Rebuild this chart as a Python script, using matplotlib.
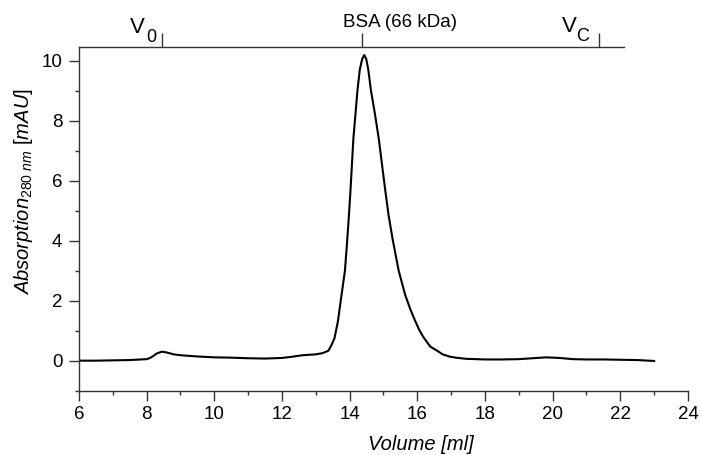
import matplotlib.pyplot as plt
from matplotlib.ticker import MultipleLocator

plt.rcParams['font.family'] = ['Liberation Sans', 'DejaVu Sans']
plt.rcParams['mathtext.fontset'] = 'custom'
plt.rcParams['mathtext.rm'] = 'Liberation Sans'
plt.rcParams['mathtext.it'] = 'Liberation Sans:italic'

# chromatogram
volume = [6.0, 6.5, 7.0, 7.5, 8.0, 8.1, 8.2, 8.3, 8.45, 8.6, 8.8, 9.0, 9.5, 10.0,
          10.5, 11.0, 11.5, 12.0, 12.3, 12.6, 13.0, 13.2, 13.37, 13.45, 13.55,
          13.65, 13.76, 13.86, 13.92, 13.97, 14.02, 14.11, 14.23, 14.3, 14.37,
          14.43, 14.49, 14.55, 14.63, 14.75, 14.86, 14.96, 15.05, 15.15, 15.27,
          15.45, 15.64, 15.8, 15.93, 16.05, 16.17, 16.38, 16.57, 16.75, 16.97,
          17.2, 17.46, 18.0, 18.5, 19.0, 19.4, 19.8, 20.2, 20.6, 21.0, 21.5,
          22.0, 22.5, 23.0]
absorb = [0.01, 0.01, 0.02, 0.03, 0.06, 0.1, 0.17, 0.25, 0.31, 0.28, 0.22, 0.19,
          0.15, 0.12, 0.11, 0.09, 0.08, 0.1, 0.14, 0.19, 0.22, 0.26, 0.34, 0.5,
          0.75, 1.3, 2.2, 3.0, 3.9, 4.7, 5.6, 7.4, 9.0, 9.7, 10.05, 10.18, 10.05,
          9.7, 9.0, 8.2, 7.4, 6.5, 5.7, 4.85, 4.05, 3.0, 2.2, 1.7, 1.35, 1.05,
          0.81, 0.48, 0.35, 0.22, 0.14, 0.1, 0.07, 0.05, 0.05, 0.06, 0.09, 0.12,
          0.1, 0.06, 0.05, 0.05, 0.04, 0.03, 0.0]

# calibration markers on the top axis
marker_vol = [8.45, 14.37, 21.37]
top_end = 22.1
ymax = 10.45

fig = plt.figure(figsize=(7.01, 4.55), dpi=100)
ax = fig.add_axes([79 / 701, 1 - 391 / 455, (688 - 79) / 701, (391 - 47) / 455])

ax.plot(volume, absorb, color='black', lw=1.5)

ax.set_xlim(6, 24)
ax.set_ylim(-1, ymax)
ax.xaxis.set_major_locator(MultipleLocator(2))
ax.xaxis.set_minor_locator(MultipleLocator(1))
ax.set_yticks([0, 2, 4, 6, 8, 10])
ax.yaxis.set_minor_locator(MultipleLocator(1))

ax.spines['right'].set_visible(False)
ax.spines['top'].set_bounds(6, top_end)
for s in ['left', 'bottom', 'top']:
    ax.spines[s].set_color('#333333')
    ax.spines[s].set_linewidth(1.0)

ax.tick_params(which='major', length=7, width=1, color='#333333', labelsize=13.5)
ax.tick_params(which='minor', length=3, width=1, color='#333333')
ax.tick_params(axis='y', which='major', pad=5)
ax.tick_params(axis='x', which='major', pad=3.5)

ax.set_xlabel('Volume [ml]', fontsize=14.5, style='italic')
ax.xaxis.set_label_coords((421 - 79) / (688 - 79), -0.128)
ax.set_ylabel(r'$\mathit{Absorption}_{\mathit{280\ nm}}\ \mathit{[mAU]}$', fontsize=14.5)
ax.yaxis.set_label_coords(-0.072, 0.58)

# top marker ticks
sec = ax.secondary_xaxis('top')
sec.set_xticks(marker_vol)
sec.set_xticklabels([])
sec.tick_params(direction='out', length=10, width=1, color='#333333')
sec.spines['top'].set_visible(False)

def top_text(v, s, dx, dy, ha, fs):
    ax.annotate(s, xy=(v, ymax), xytext=(dx, dy), textcoords='offset points',
                ha=ha, va='baseline', fontsize=fs, annotation_clip=False)

top_text(marker_vol[0], 'V', -12.2, 10, 'right', 16)
top_text(marker_vol[0], '0', -11.5, 3.6, 'left', 13)
top_text(marker_vol[1], 'BSA (66 kDa)', 27, 14.4, 'center', 13.5)
top_text(marker_vol[2], 'V', -15.8, 10.8, 'right', 16)
top_text(marker_vol[2], 'C', -16.6, 4.3, 'left', 13)

fig.savefig('out.png', dpi=100)
